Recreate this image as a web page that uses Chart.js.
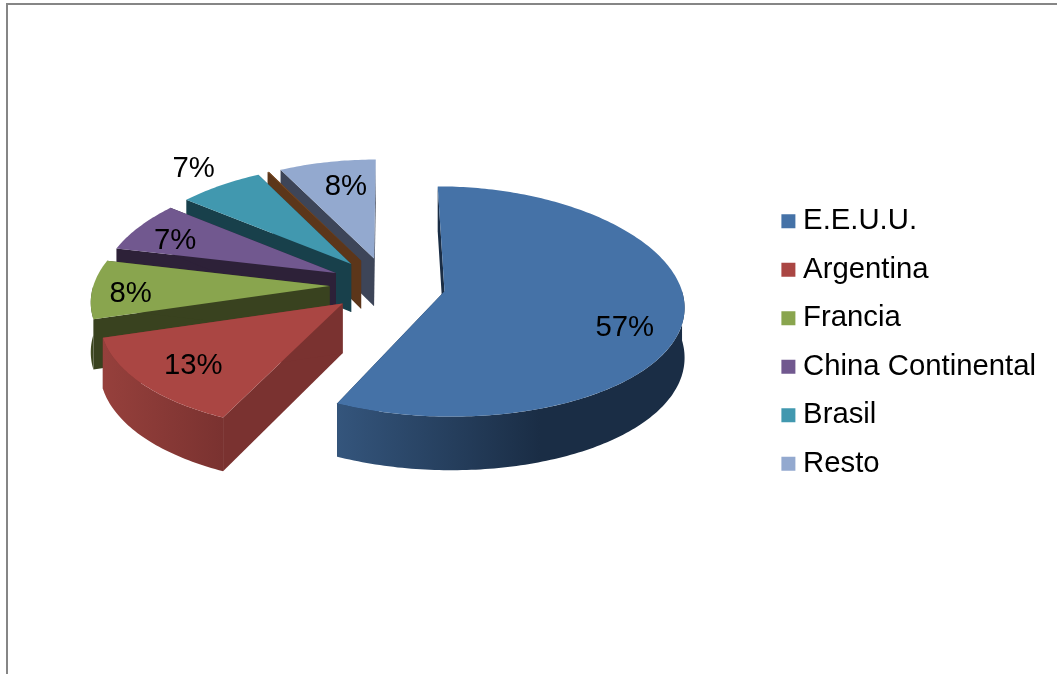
<!DOCTYPE html>
<html><head><meta charset="utf-8">
<script src="https://cdn.jsdelivr.net/npm/chart.js@4"></script>
<style>
html,body{margin:0;padding:0;background:#fff;overflow:hidden}
#wrap{position:relative;width:1057px;height:674px}
canvas{display:block}
</style></head><body>
<div id="wrap"><canvas id="c" width="1057" height="674"></canvas></div>
<script>
const categories = ['E.E.U.U.','Argentina','Francia','China Continental','Brasil','','Resto'];
const shares = [57.1,13.3,8.2,7.0,6.6,0.1,7.7];
const topColors  = ['#4572A7','#AA4643','#89A54E','#71588F','#4198AF','#7A4A22','#93A9CF'];
const wallColors = ['#1A2D45','#7A3230','#39421F','#2D2138','#18404B','#5C361A','#3D4558'];
const rimLight   = ['#34557C','#96403C','#444F24','#3A2C48','#205260','#76451F','#4F5A70'];

const view = {shiftX:3, shiftY:-57.5, explode:58, tilt:0.483, perspY:0.09, perspX:0.12, depth:49};
const labelNudge = [[14,19],[-12,7],[-33,6],[-21,1],[-63,-39],null,[6,-2]];

function project(arc, a, r, z){
  const mid=(arc.startAngle+arc.endAngle)/2, R=arc.outerRadius;
  const X=view.explode*Math.cos(mid)+r*Math.cos(a);
  const Y=view.explode*Math.sin(mid)+r*Math.sin(a);
  const wy=1+view.perspY*Y/R;
  const wx=1+view.perspX*Y/R;
  return [arc.x+view.shiftX+X*wx, arc.y+view.shiftY+(view.tilt*Y+z*view.depth)*wy];
}
function poly(ctx,pts,fill){
  ctx.beginPath();
  pts.forEach((p,i)=>i?ctx.lineTo(p[0],p[1]):ctx.moveTo(p[0],p[1]));
  ctx.closePath(); ctx.fillStyle=fill; ctx.fill();
}
function arcPts(arc,a0,a1,z){
  const n=Math.max(2,Math.ceil(Math.abs(a1-a0)*180/Math.PI)), pts=[];
  for(let i=0;i<=n;i++) pts.push(project(arc,a0+(a1-a0)*i/n,arc.outerRadius,z));
  return pts;
}
const pie3d = {
  id:'pie3d',
  beforeDatasetDraw(chart,args){
    const ctx=chart.ctx, arcs=args.meta.data;
    const order=arcs.map((a,i)=>i).sort((i,j)=>
      Math.sin((arcs[i].startAngle+arcs[i].endAngle)/2)-Math.sin((arcs[j].startAngle+arcs[j].endAngle)/2));
    ctx.save();
    order.forEach(i=>{
      const arc=arcs[i], s=arc.startAngle, e=arc.endAngle, R=arc.outerRadius;
      [s,e].forEach(a=>{
        poly(ctx,[project(arc,a,0,0),project(arc,a,R,0),project(arc,a,R,1),project(arc,a,0,1)],wallColors[i]);
      });
      const lo=Math.max(s,0), hi=Math.min(e,Math.PI);
      if(hi>lo){
        const top=arcPts(arc,lo,hi,0), bot=arcPts(arc,hi,lo,1);
        const xs=top.map(p=>p[0]), x0=Math.min(...xs), x1=Math.max(...xs);
        const g=ctx.createLinearGradient(i===0?338:x0,0,i===0?540:x1,0);
        g.addColorStop(0,rimLight[i]); g.addColorStop(1,wallColors[i]);
        poly(ctx,top.concat(bot),g);
      }
      const face=[project(arc,s,0,0)].concat(arcPts(arc,s,e,0));
      poly(ctx,face,topColors[i]);
    });
    ctx.restore();
    return false;
  },
  afterDatasetsDraw(chart){
    const ctx=chart.ctx, arcs=chart.getDatasetMeta(0).data;
    const total=shares.reduce((a,b)=>a+b,0);
    ctx.save();
    ctx.font='29.3px "Liberation Sans"'; ctx.fillStyle='#000';
    ctx.textAlign='center'; ctx.textBaseline='middle';
    arcs.forEach((arc,i)=>{
      if(!labelNudge[i]) return;
      const mid=(arc.startAngle+arc.endAngle)/2;
      const p=project(arc,mid,arc.outerRadius*0.7,0);
      ctx.fillText(Math.round(shares[i]/total*100)+'%',p[0]+labelNudge[i][0],p[1]+labelNudge[i][1]);
    });
    ctx.restore();
  },
  beforeDraw(chart){
    const ctx=chart.ctx;
    ctx.save();
    ctx.fillStyle='#fff'; ctx.fillRect(0,0,chart.width,chart.height);
    ctx.fillStyle='#868686';
    ctx.fillRect(6,3,1051,2); ctx.fillRect(6,3,2,671);
    ctx.restore();
  }
};
new Chart(document.getElementById('c'),{
  type:'pie',
  data:{labels:categories,datasets:[{data:shares,backgroundColor:topColors,borderWidth:0}]},
  plugins:[pie3d],
  options:{
    responsive:false,animation:false,devicePixelRatio:1,
    layout:{padding:{left:0,top:106.5,bottom:95.5,right:11}},
    plugins:{
      tooltip:{enabled:false},
      legend:{
        position:'right',
        labels:{
          font:{family:'"Liberation Sans"',size:29.3},color:'#000',
          usePointStyle:true,pointStyle:'rect',boxWidth:0.1,boxHeight:14,padding:19.2,
          filter:item=>item.text!==''
        }
      }
    }
  }
});
</script>
</body></html>
